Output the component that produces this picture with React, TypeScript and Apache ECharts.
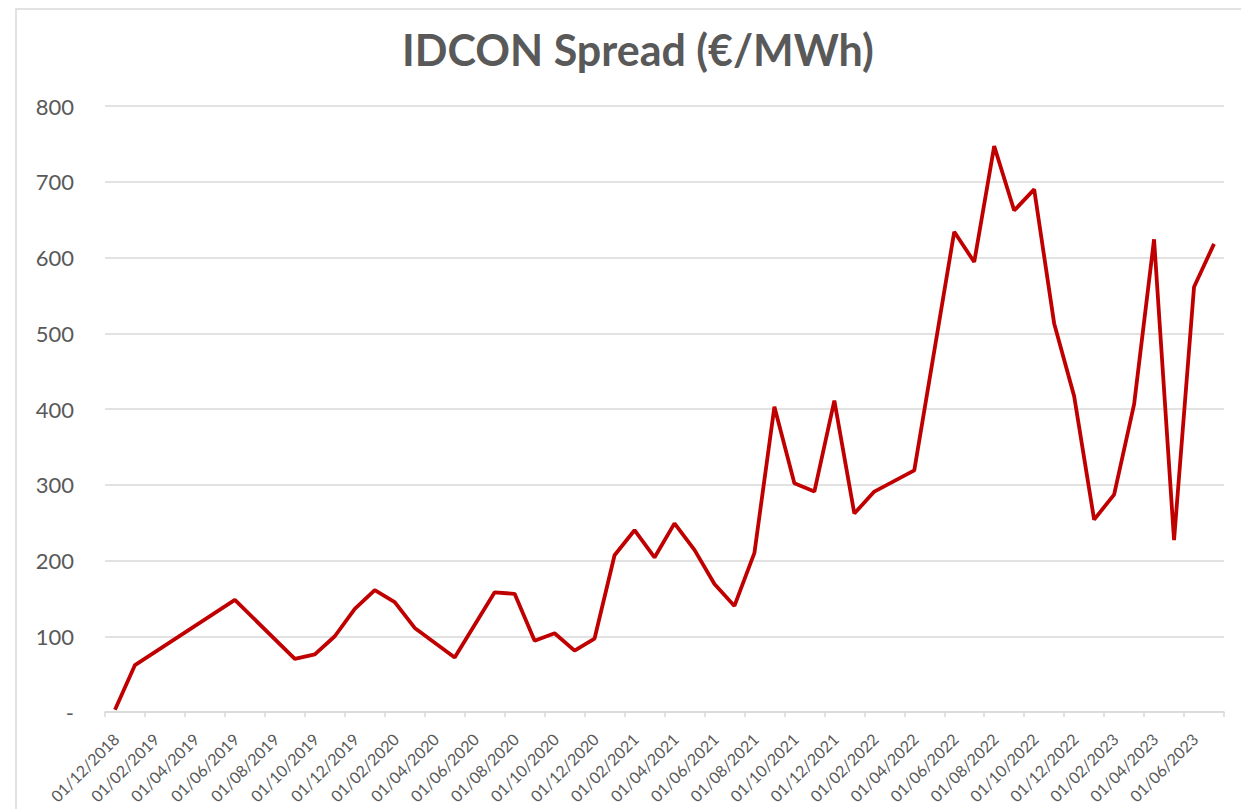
import React, { useEffect, useRef } from "react";
import * as echarts from "echarts";

// Monthly observations (YYYY-MM) and IDCON spread values (€/MWh)
const months: string[] = [
  "2018-12", "2019-01", "2019-06", "2019-09", "2019-10", "2019-11", "2019-12",
  "2020-01", "2020-02", "2020-03", "2020-05", "2020-07", "2020-08", "2020-09",
  "2020-10", "2020-11", "2020-12", "2021-01", "2021-02", "2021-03", "2021-04",
  "2021-05", "2021-06", "2021-07", "2021-08", "2021-09", "2021-10", "2021-11",
  "2021-12", "2022-01", "2022-02", "2022-04", "2022-06", "2022-07", "2022-08",
  "2022-09", "2022-10", "2022-11", "2022-12", "2023-01", "2023-02", "2023-03",
  "2023-04", "2023-05", "2023-06", "2023-07",
];
const spread: number[] = [
  3, 62, 148, 70, 76, 100, 136,
  161, 145, 111, 72, 158, 156, 94,
  104, 81, 97, 207, 240, 204, 249,
  214, 169, 140, 210, 403, 302, 291,
  411, 262, 291, 319, 634, 594, 747,
  662, 690, 513, 417, 254, 287, 406,
  624, 227, 561, 618,
];

// Date axis: start Dec 2018, ticks every two months, end Aug 2023
const axisStartYear = 2018;
const axisStartMonth = 12;
const axisMonths = 56;
const tickStepMonths = 2;
const yTicks: number[] = [0, 100, 200, 300, 400, 500, 600, 700, 800];

const TITLE = "IDCON Spread (€/MWh)";

function monthIndex(ym: string): number {
  const [y, m] = ym.split("-").map(Number);
  return (y - axisStartYear) * 12 + (m - axisStartMonth);
}

function tickLabel(v: number): string {
  const idx = Math.round(v);
  if (Math.abs(v - idx) > 1e-6 || idx % tickStepMonths !== 0) return "";
  if (idx < 0 || idx >= axisMonths) return "";
  const total = axisStartMonth - 1 + idx;
  const year = axisStartYear + Math.floor(total / 12);
  const month = (total % 12) + 1;
  return "01/" + String(month).padStart(2, "0") + "/" + year;
}

export default function App() {
  const ref = useRef<HTMLDivElement>(null);
  useEffect(() => {
    if (!ref.current) return;
    const chart = echarts.init(ref.current, undefined, { renderer: "svg" });
    const gray = "#595959";
    const grid = "#d9d9d9";
    const font = "Lato, 'Open Sans', sans-serif";
    // Excel draws rotated date labels slightly right of their tick:
    // a label-only axis whose extent is offset by a fraction of a month.
    const labelShift = 0.55;
    chart.setOption({
      animation: false,
      backgroundColor: "#ffffff",
      textStyle: { fontFamily: font },
      title: {
        text: TITLE,
        left: 633,
        top: 23,
        textAlign: "center",
        textStyle: { color: gray, fontSize: 43, fontWeight: "bold", fontFamily: font },
      },
      graphic: [
        {
          type: "rect",
          shape: { x: 16, y: 9, width: 1400, height: 1000 },
          style: { fill: "none", stroke: grid, lineWidth: 1.5 },
          silent: true,
        },
      ],
      grid: {
        left: 105,
        right: 17,
        top: 106,
        bottom: 97,
        containLabel: false,
        outerBoundsMode: "none",
      },
      xAxis: [
        {
          type: "value",
          min: 0,
          max: axisMonths,
          interval: tickStepMonths,
          axisLine: { show: true, lineStyle: { color: grid, width: 1.5 } },
          axisTick: { show: true, length: 5, lineStyle: { color: grid, width: 1.5 } },
          splitLine: { show: false },
          axisLabel: { show: false },
        },
        {
          type: "value",
          position: "bottom",
          min: -labelShift,
          max: axisMonths - labelShift,
          minInterval: tickStepMonths,
          maxInterval: tickStepMonths,
          splitNumber: axisMonths / tickStepMonths,
          axisLine: { show: false },
          axisTick: { show: false },
          splitLine: { show: false },
          axisLabel: {
            rotate: 45,
            color: gray,
            fontSize: 16,
            fontFamily: font,
            margin: 24,
            showMinLabel: false,
            showMaxLabel: false,
            hideOverlap: false,
            formatter: (v: number) => tickLabel(v),
          },
        },
      ],
      yAxis: {
        type: "value",
        min: yTicks[0],
        max: yTicks[yTicks.length - 1],
        interval: yTicks[1] - yTicks[0],
        axisLine: { show: false },
        axisTick: { show: false },
        splitLine: { show: true, lineStyle: { color: grid, width: 1.5 } },
        axisLabel: {
          color: gray,
          fontSize: 22,
          fontFamily: font,
          margin: 31,
          formatter: (v: number) => (v === 0 ? "-" : String(v)),
        },
      },
      series: [
        {
          type: "line",
          xAxisIndex: 0,
          data: months.map((m, i) => [monthIndex(m) + 0.5, spread[i]]),
          showSymbol: false,
          symbol: "none",
          lineStyle: { color: "#c00000", width: 3.8 },
          itemStyle: { color: "#c00000" },
        },
      ],
    });
    return () => chart.dispose();
  }, []);
  return (
    <div
      ref={ref}
      style={{ position: "fixed", left: 0, top: 0, width: 1241, height: 809, background: "#fff" }}
    />
  );
}
